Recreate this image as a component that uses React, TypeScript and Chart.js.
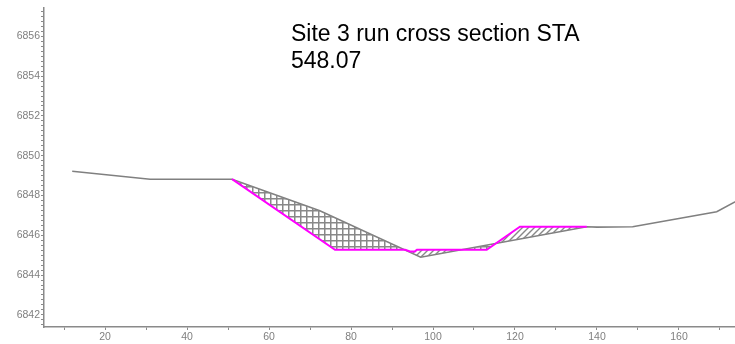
import React, { useEffect, useRef } from "react";
import { Chart, registerables } from "chart.js";

Chart.register(...registerables);

const TITLE_LINES = ["Site 3 run cross section STA", "548.07"];

// Existing ground cross-section (station, elevation)
const groundX = [12, 31, 51, 72.4, 97, 137.5, 140, 148.7, 169.2, 175.5];
const groundY = [6849.22, 6848.82, 6848.82, 6847.23, 6844.9, 6846.43, 6846.41, 6846.43, 6847.18, 6847.88];

// Design cross-section
const designX = [51, 76.1, 93.2, 94.4, 95.6, 96.1, 113.1, 121.2, 137.5];
const designY = [6848.82, 6845.27, 6845.27, 6845.19, 6845.19, 6845.27, 6845.27, 6846.43, 6846.43];

// Axis ticks
const xTickValues = [10, 20, 30, 40, 50, 60, 70, 80, 90, 100, 110, 120, 130, 140, 150, 160, 170];
const xLabelValues = [20, 40, 60, 80, 100, 120, 140, 160];
const yLabelValues = [6842, 6844, 6846, 6848, 6850, 6852, 6854, 6856];
const yMinorStep = 0.25;

const X_MIN = 5.12;
const X_MAX = 173.66;
const Y_MIN = 6841.39;
const Y_MAX = 6857.46;

const AXIS_GRAY = "#8a8a8a";
const LABEL_GRAY = "#7f7f7f";

function makeCrossHatch(): CanvasPattern | string {
  const c = document.createElement("canvas");
  c.width = 6;
  c.height = 6;
  const ctx = c.getContext("2d");
  if (!ctx) return "rgba(128,128,128,0.3)";
  ctx.strokeStyle = "#888888";
  ctx.lineWidth = 1.5;
  ctx.beginPath();
  ctx.moveTo(0, 0.75);
  ctx.lineTo(6, 0.75);
  ctx.moveTo(0.75, 0);
  ctx.lineTo(0.75, 6);
  ctx.stroke();
  return ctx.createPattern(c, "repeat") || "rgba(128,128,128,0.3)";
}

function makeDiagHatch(): CanvasPattern | string {
  const c = document.createElement("canvas");
  c.width = 6;
  c.height = 6;
  const ctx = c.getContext("2d");
  if (!ctx) return "rgba(128,128,128,0.3)";
  ctx.strokeStyle = "#888888";
  ctx.lineWidth = 1.4;
  ctx.beginPath();
  ctx.moveTo(0, 6);
  ctx.lineTo(6, 0);
  ctx.moveTo(-1, 1);
  ctx.lineTo(1, -1);
  ctx.moveTo(5, 7);
  ctx.lineTo(7, 5);
  ctx.stroke();
  return ctx.createPattern(c, "repeat") || "rgba(128,128,128,0.3)";
}

export default function App() {
  const canvasRef = useRef<HTMLCanvasElement | null>(null);

  useEffect(() => {
    if (!canvasRef.current) return;
    const cross = makeCrossHatch();
    const diag = makeDiagHatch();

    const groundData = groundX.map((x, i) => ({ x, y: groundY[i] }));
    const designData = designX.map((x, i) => ({ x, y: designY[i] }));

    const yTicks: number[] = [];
    for (let v = Math.ceil(Y_MIN / yMinorStep) * yMinorStep; v <= Y_MAX; v += yMinorStep) {
      yTicks.push(v);
    }

    const chart = new Chart(canvasRef.current, {
      type: "line",
      data: {
        datasets: [
          {
            label: "Design",
            data: designData,
            borderColor: "#ff00ff",
            borderWidth: 2,
            pointRadius: 0,
            tension: 0,
            fill: { target: 1, above: diag, below: cross } as any,
          },
          {
            label: "Ground",
            data: groundData,
            borderColor: "#808080",
            borderWidth: 1.6,
            pointRadius: 0,
            tension: 0,
            fill: false,
          },
        ],
      },
      options: {
        animation: false,
        responsive: false,
        devicePixelRatio: 1,
        layout: { padding: { top: 5, left: 0, right: 0, bottom: 0 } },
        plugins: {
          legend: { display: false },
          tooltip: { enabled: false },
          title: { display: false },
        },
        scales: {
          x: {
            type: "linear",
            min: X_MIN,
            max: X_MAX,
            afterBuildTicks: (scale: any) => {
              scale.ticks = xTickValues.map((v) => ({ value: v }));
            },
            afterFit: (scale: any) => {
              scale.height = 17;
            },
            ticks: {
              autoSkip: false,
              maxRotation: 0,
              padding: 1,
              color: LABEL_GRAY,
              font: { family: "'Liberation Sans', Arial, sans-serif", size: 10.5 },
              callback: (v: any) => (xLabelValues.includes(Number(v)) ? String(v) : ""),
            },
            grid: {
              drawOnChartArea: false,
              drawTicks: true,
              tickLength: 3,
              tickColor: AXIS_GRAY,
              tickWidth: 1,
            },
            border: { display: true, color: AXIS_GRAY, width: 1.5 },
          },
          y: {
            type: "linear",
            min: Y_MIN,
            max: Y_MAX,
            afterBuildTicks: (scale: any) => {
              scale.ticks = yTicks.map((v) => ({ value: v }));
            },
            afterFit: (scale: any) => {
              scale.width = 44;
            },
            ticks: {
              autoSkip: false,
              padding: 1,
              color: LABEL_GRAY,
              font: { family: "'Liberation Sans', Arial, sans-serif", size: 10.5 },
              callback: (v: any) => (yLabelValues.includes(Number(v)) ? String(v) : ""),
            },
            grid: {
              drawOnChartArea: false,
              drawTicks: true,
              tickLength: 3,
              tickColor: AXIS_GRAY,
              tickWidth: 1,
            },
            border: { display: true, color: AXIS_GRAY, width: 1.5 },
          },
        },
      },
    } as any);

    return () => {
      chart.destroy();
    };
  }, []);

  return (
    <div
      style={{
        position: "fixed",
        left: 0,
        top: 0,
        width: 735,
        height: 344,
        background: "#ffffff",
        overflow: "hidden",
      }}
    >
      <canvas ref={canvasRef} width={735} height={344} style={{ display: "block" }} />
      <div
        style={{
          position: "absolute",
          left: 291,
          top: 20,
          fontFamily: "'Liberation Sans', Arial, sans-serif",
          fontSize: 23,
          lineHeight: "26.6px",
          color: "#000000",
          whiteSpace: "nowrap",
        }}
      >
        {TITLE_LINES.map((t, i) => (
          <div key={i}>{t}</div>
        ))}
      </div>
    </div>
  );
}
